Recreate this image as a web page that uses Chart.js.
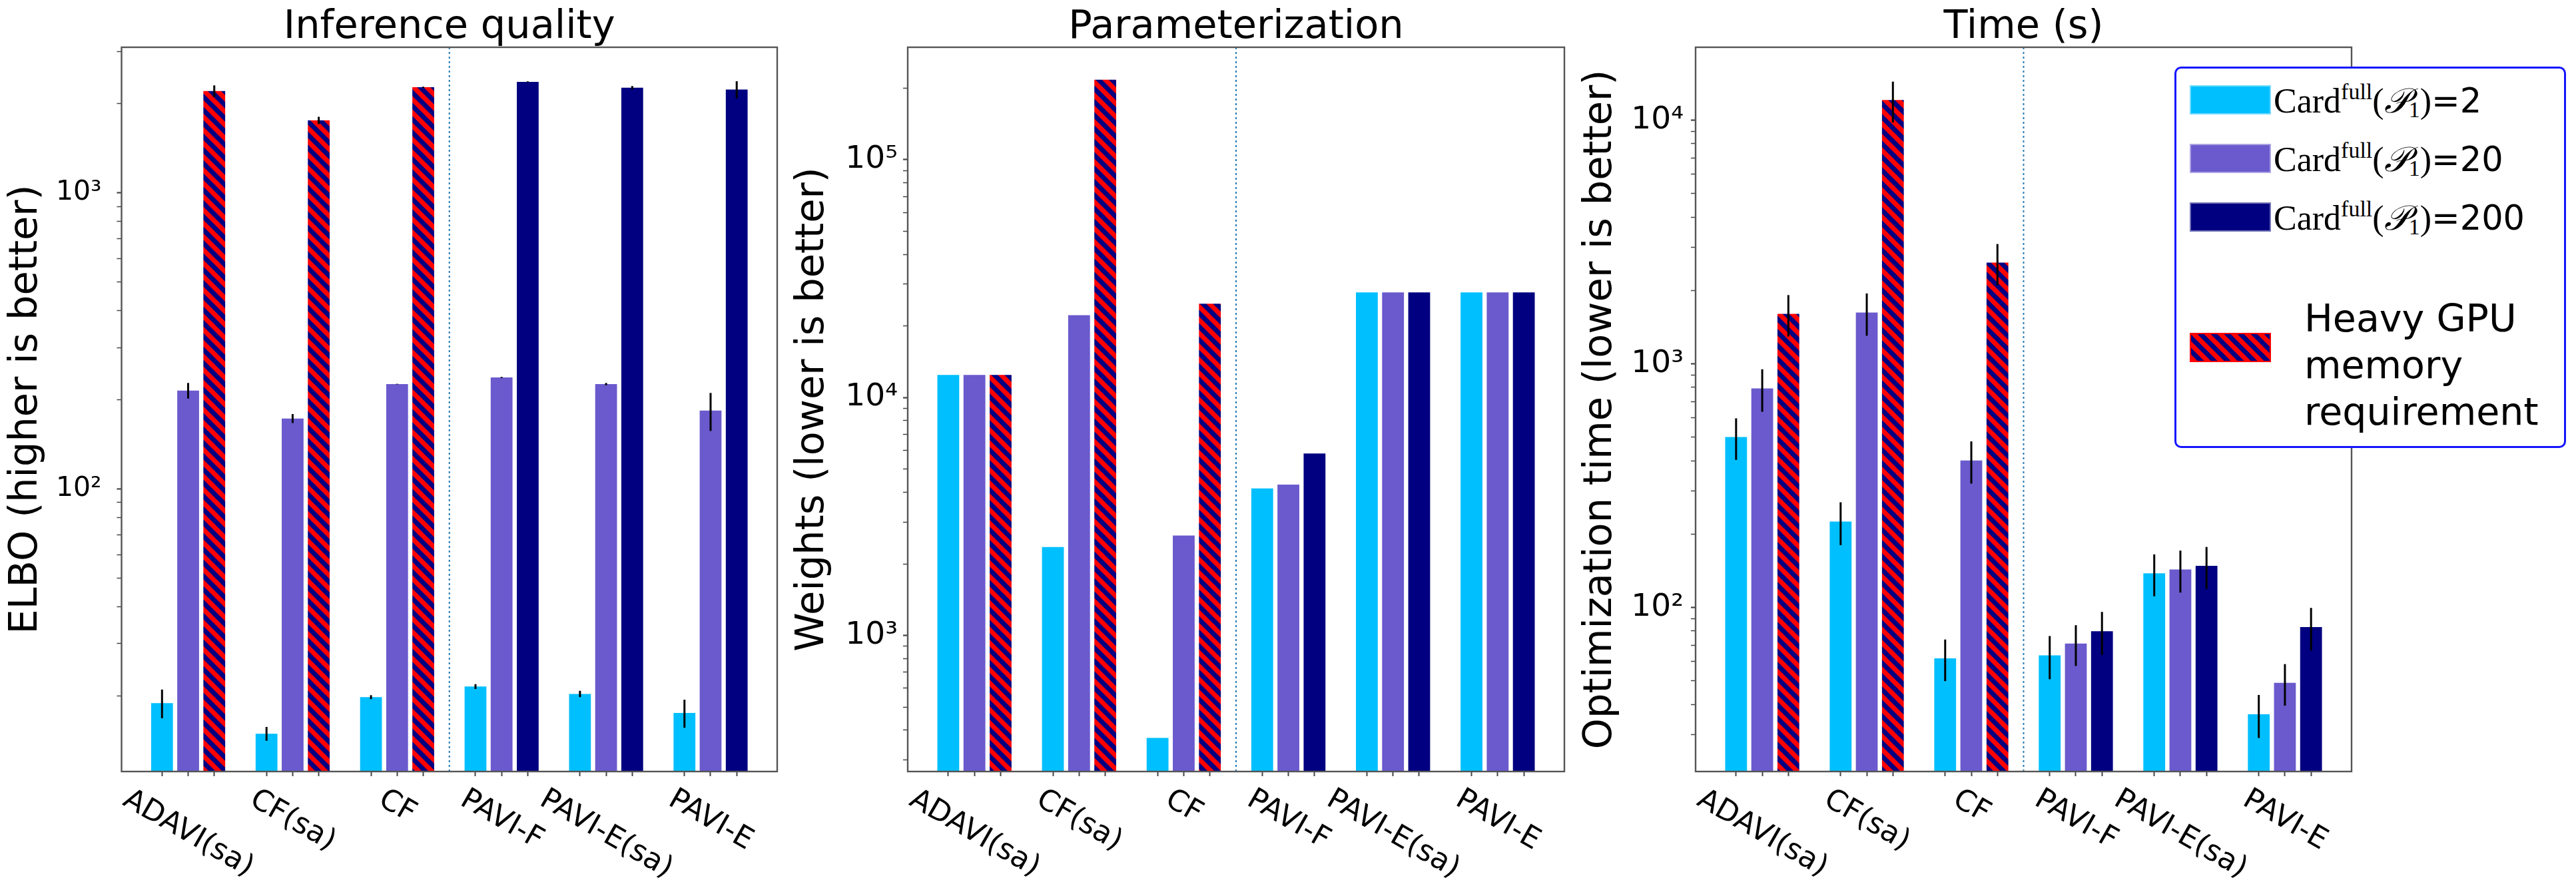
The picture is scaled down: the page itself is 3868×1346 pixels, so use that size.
<!DOCTYPE html>
<html>
<head>
<meta charset="utf-8">
<script src="https://cdn.jsdelivr.net/npm/chart.js@4.4.1/dist/chart.umd.min.js"></script>
<style>
  body { margin: 0; background: #fff; width: 3868px; height: 1346px; position: relative; overflow: hidden; font-family: "DejaVu Sans"; }
  canvas { position: absolute; top: 0; }
  #legend { position: absolute; left: 3265px; top: 100px; width: 588px; height: 573px; box-sizing: border-box;
            border: 3px solid #1414ff; border-radius: 10px; background: #fff; }
  #legend .sw { position: absolute; left: 20px; width: 122px; height: 44px; box-sizing: border-box; }
  #legend .lab { position: absolute; left: 146px; white-space: nowrap; font-size: 51px; line-height: 50px; color: #000; }
  #legend .cm { font-family: "Liberation Serif", "DejaVu Serif", serif; font-size: 52px; }
  #legend sup { font-size: 34px; line-height: 0; vertical-align: 0.6em; }
  #legend sub { font-size: 34px; line-height: 0; vertical-align: -0.2em; }
  #legend .cal { font-family: "DejaVu Serif", "DejaVu Sans", serif; font-style: italic; }
  #legend .heavy { position: absolute; left: 192px; top: 340px; font-size: 57px; line-height: 70px; color: #000; }
</style>
</head>
<body>
<canvas id="elboChart" width="1190" height="1346" style="left:0px"></canvas>
<canvas id="weightsChart" width="1180" height="1346" style="left:1190px"></canvas>
<canvas id="timeChart" width="1498" height="1346" style="left:2370px"></canvas>
<div id="legend"></div>

<script>
// methods, left group = non amortized baselines, right group = PAVI variants
const categories = ['ADAVI(sa)', 'CF(sa)', 'CF', 'PAVI-F', 'PAVI-E(sa)', 'PAVI-E'];
const heavyGpu = [true, true, true, false, false, false];
const cardinalities = ['2', '20', '200'];

// Inference quality (ELBO)
const elbo2 = [18.9, 14.9, 19.8, 21.5, 20.3, 17.5];
const elbo20 = [215, 173, 226, 238, 226, 184];
const elbo200 = [2208, 1758, 2275, 2372, 2266, 2234];
const elbo2Err = [2.1, 0.8, 0.3, 0.4, 0.5, 1.9];
const elbo20Err = [13, 6, 0.5, 1, 2, 27];
const elbo200Err = [100, 50, 10, 10, 30, 150];

// Parameterization (number of weights)
const weights2 = [12450, 2355, 371, 4150, 27700, 27700];
const weights20 = [12450, 22200, 2633, 4310, 27700, 27700];
const weights200 = [12450, 217000, 24800, 5820, 27700, 27700];

// Optimization time (s)
const time2 = [500, 225, 61.8, 63.5, 138, 36.4];
const time20 = [792, 1623, 401, 71, 143, 49];
const time200 = [1603, 12080, 2600, 79.8, 148, 83];
const time2Err = [97, 45, 12, 12.8, 27, 7.3];
const time20Err = [157, 320, 79, 13.5, 28, 9.5];
const time200Err = [310, 2300, 500, 16, 29, 16.5];

const seriesColors = ['#00bfff', '#6a5acd', '#000080'];
const hatchRed = '#ff0000';
const supDigits = {'0':'⁰','1':'¹','2':'²','3':'³','4':'⁴','5':'⁵','6':'⁶','7':'⁷','8':'⁸','9':'⁹'};

Chart.defaults.font.family = '"DejaVu Sans"';
Chart.defaults.color = '#000';

// tile for the red / navy hatch
var hatchTile = document.createElement('canvas');
hatchTile.width = 20;
hatchTile.height = 20;
(function(){
	var g = hatchTile.getContext('2d');
	g.fillStyle = hatchRed;
	g.fillRect(0, 0, 20, 20);
	g.strokeStyle = seriesColors[2];
	g.lineWidth = 7.07;
	for (var k = -20; k <= 20; k += 20) {
		g.beginPath();
		g.moveTo(-5, -5 + k);
		g.lineTo(25, 25 + k);
		g.stroke();
	}
})();

var barPositions = [];
categories.forEach(function(c, g){ for (var s = 0; s < 3; s++) barPositions.push(4 * g + s); });

function logTicks(min, max){
	var out = [];
	for (var e = Math.floor(Math.log10(min)); e <= Math.ceil(Math.log10(max)); e++) {
		for (var k = 1; k < 10; k++) {
			var v = k * Math.pow(10, e);
			if (v >= min && v <= max) out.push({value: v, major: k === 1});
		}
	}
	return out;
}

var panelDecor = {
	id: 'panelDecor',
	afterDatasetsDraw(chart){
		var ctx = chart.ctx, y = chart.scales.y;
		chart.data.datasets.forEach(function(ds, i){
			if (!ds.errors) return;
			chart.getDatasetMeta(i).data.forEach(function(bar, j){
				var v = ds.data[j].y, e = ds.errors[j];
				ctx.save();
				ctx.strokeStyle = '#000';
				ctx.lineWidth = 3;
				ctx.beginPath();
				ctx.moveTo(bar.x, y.getPixelForValue(v + e));
				ctx.lineTo(bar.x, y.getPixelForValue(v - e));
				ctx.stroke();
				ctx.restore();
			});
		});
	},
	afterDraw(chart){
		var ctx = chart.ctx, a = chart.chartArea, x = chart.scales.x;
		ctx.save();
		// separator between baselines and PAVI
		var sx = x.getPixelForValue(11);
		ctx.strokeStyle = '#1f77b4';
		ctx.lineWidth = 2;
		ctx.setLineDash([3, 4]);
		ctx.beginPath();
		ctx.moveTo(sx, a.top);
		ctx.lineTo(sx, a.bottom);
		ctx.stroke();
		ctx.setLineDash([]);
		// axes frame
		ctx.strokeStyle = '#555';
		ctx.lineWidth = 2.4;
		ctx.strokeRect(a.left, a.top, a.right - a.left, a.bottom - a.top);
		// rotated method labels
		var size = 44, ang = Math.PI / 6;
		ctx.font = size + 'px "DejaVu Sans"';
		ctx.fillStyle = '#000';
		ctx.textAlign = 'center';
		ctx.textBaseline = 'middle';
		categories.forEach(function(c, g){
			var px = x.getPixelForValue(4 * g + 1);
			var w = ctx.measureText(c).width;
			var bh = w * Math.sin(ang) + size * Math.cos(ang);
			ctx.save();
			ctx.translate(px, a.bottom + 20 + bh / 2);
			ctx.rotate(ang);
			ctx.fillText(c, 0, 0);
			ctx.restore();
		});
		ctx.restore();
	}
};

function buildPanel(id, opt){
	var ctx = document.getElementById(id);
	var datasets = opt.series.map(function(vals, s){
		return {
			label: 'Card full (P1)=' + cardinalities[s],
			data: vals.map(function(v, g){ return {x: 4 * g + s, y: v}; }),
			errors: opt.errors ? opt.errors[s] : null,
			backgroundColor: function(c){
				if (s === 2 && c.dataIndex !== undefined && heavyGpu[c.dataIndex])
					return c.chart.ctx.createPattern(hatchTile, 'repeat');
				return seriesColors[s];
			},
			borderWidth: 0,
			grouped: false,
			categoryPercentage: 1,
			barPercentage: 0.835
		};
	});
	var chart = new Chart(ctx, {
		type: 'bar',
		data: { datasets: datasets },
		options: {
			responsive: false,
			animation: false,
			devicePixelRatio: 1,
			layout: { padding: { left: 0, right: opt.padRight, top: 0, bottom: 0 } },
			plugins: {
				legend: { display: false },
				tooltip: { enabled: false },
				title: {
					display: true,
					text: opt.title,
					fullSize: false,
					color: '#000',
					font: { size: 59, lineHeight: 1, weight: 'normal' },
					padding: { top: 12, bottom: 0 }
				}
			},
			scales: {
				x: {
					type: 'linear',
					min: -1.55,
					max: 23.55,
					offset: false,
					afterBuildTicks: function(s){ s.ticks = barPositions.map(function(v){ return {value: v}; }); },
					afterFit: function(s){ s.height = 187; },
					ticks: { display: false, autoSkip: false },
					grid: { display: true, offset: false, drawOnChartArea: false, drawTicks: true, tickLength: 7, tickWidth: 2, tickColor: '#444' },
					border: { display: false }
				},
				y: {
					type: 'logarithmic',
					min: opt.yMin,
					max: opt.yMax,
					afterBuildTicks: function(s){ s.ticks = logTicks(opt.yMin, opt.yMax); },
					afterFit: function(s){ s.width = opt.yWidth; },
					ticks: {
						autoSkip: false,
						padding: opt.tickPad,
						color: '#000',
						font: { size: opt.tickSize },
						callback: function(value, index, ticks){
							if (!ticks[index].major) return '';
							var e = String(Math.round(Math.log10(value)));
							return '10' + e.split('').map(function(d){ return supDigits[d]; }).join('');
						}
					},
					grid: {
						display: true,
						drawOnChartArea: false,
						drawTicks: true,
						tickLength: 7,
						tickWidth: function(c){ return c.tick && c.tick.major ? 2.2 : 1.5; },
						tickColor: '#444'
					},
					border: { display: false },
					title: {
						display: true,
						text: opt.yTitle,
						color: '#000',
						font: { size: 59, lineHeight: 1 },
						padding: { top: opt.yTitlePad, bottom: 0 }
					}
				}
			}
		},
		plugins: [panelDecor]
	});
	console.log(id + ' was built');
	return chart;
}

window.elboChart = buildPanel('elboChart', {
	title: 'Inference quality',
	yTitle: 'ELBO (higher is better)',
	series: [elbo2, elbo20, elbo200],
	errors: [elbo2Err, elbo20Err, elbo200Err],
	yMin: 11.1, yMax: 3105,
	yWidth: 182.5, padRight: 23, tickSize: 41, tickPad: 23, yTitlePad: 10
});

window.weightsChart = buildPanel('weightsChart', {
	title: 'Parameterization',
	yTitle: 'Weights (lower is better)',
	series: [weights2, weights20, weights200],
	errors: null,
	yMin: 268, yMax: 297000,
	yWidth: 173, padRight: 21, tickSize: 47, tickPad: 8, yTitlePad: 1
});

window.timeChart = buildPanel('timeChart', {
	title: 'Time (s)',
	yTitle: 'Optimization time (lower is better)',
	series: [time2, time20, time200],
	errors: [time2Err, time20Err, time200Err],
	yMin: 21.2, yMax: 19900,
	yWidth: 176, padRight: 337, tickSize: 47, tickPad: 11, yTitlePad: 4
});

// legend, drawn next to the time panel
(function buildLegend(){
	var box = document.getElementById('legend');
	var tops = [25, 113, 201];
	cardinalities.forEach(function(card, s){
		var sw = document.createElement('div');
		sw.className = 'sw';
		sw.style.top = tops[s] + 'px';
		sw.style.background = seriesColors[s];
		sw.style.border = '2px solid rgba(255,255,255,0.45)';
		box.appendChild(sw);
		var lab = document.createElement('div');
		lab.className = 'lab';
		lab.style.top = (tops[s] - 2) + 'px';
		lab.innerHTML = '<span class="cm">Card<sup>full</sup>(<span class="cal">𝒫</span><sub>1</sub>)</span>=' + card;
		box.appendChild(lab);
	});
	var hs = document.createElement('div');
	hs.className = 'sw';
	hs.style.top = '397px';
	hs.style.background = 'repeating-linear-gradient(45deg, ' + hatchRed + ' 0 7.07px, ' + seriesColors[2] + ' 7.07px 14.14px)';
	hs.style.border = '2px solid ' + hatchRed;
	box.appendChild(hs);
	var ht = document.createElement('div');
	ht.className = 'heavy';
	ht.innerHTML = 'Heavy GPU<br>memory<br>requirement';
	box.appendChild(ht);
})();
</script>
</body>
</html>
